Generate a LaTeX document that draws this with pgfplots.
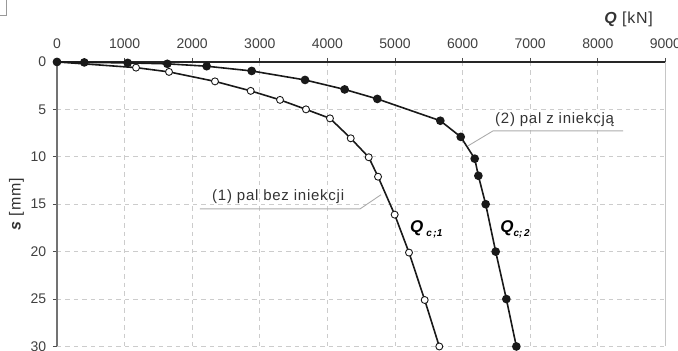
\documentclass[border=0pt]{standalone}
\usepackage{fontspec}
\setmainfont{Liberation Sans}
\newfontfamily\lbl[LetterSpace=5]{Liberation Sans}
\usepackage{pgfplots}
\pgfplotsset{compat=1.18}
\begin{document}
\fontsize{14}{16}\selectfont
\begin{tikzpicture}
\begin{axis}[
 scale only axis, width=609pt, height=284.8pt,
 xmin=0,xmax=9000, ymin=0,ymax=30, y dir=reverse,
 axis x line*=top, axis y line*=left,
 xtick={0,1000,...,9000}, ytick={0,5,...,30},
 scaled x ticks=false, xticklabel style={/pgf/number format/1000 sep={}, yshift=4pt},
 yticklabel style={xshift=-2pt},
 /pgf/number format/assume math mode=true,
 ticklabel style={font=\fontsize{14}{16}\selectfont, text=black!75},
 grid=major, major grid style={gray!40, line width=0.8pt, dash pattern=on 4.5pt off 4pt},
 tick align=outside, tick style={black!70, line width=1pt}, major tick length=4pt,
 x axis line style={black!85, line width=1.6pt, -},
 y axis line style={black!55, line width=2.2pt, -},
 clip=false,
]
\addplot[black!90, line width=1.6pt, mark=*, mark size=3.5pt, mark options={fill=white, line width=0.9pt}] coordinates {
(0,0) (1169,0.6) (1657,1.05) (2337,2.05) (2865,3.05) (3299,4.0) (3683,5.0) (4038,5.95)
(4345,8.05) (4611,10.05) (4749,12.1) (4995,16.1) (5207,20.1) (5439,25.1) (5655,30)};
\addplot[black!90, line width=1.6pt, mark=*, mark size=3.5pt, mark options={fill=black!90}] coordinates {
(0,0) (404,0.05) (1045,0.1) (1632,0.2) (2214,0.45) (2880,0.95) (3669,1.9) (4255,2.9) (4738,3.9)
(5670,6.2) (5972,7.9) (6179,10.2) (6233,12) (6341,15) (6489,20) (6647,25) (6795,30)};
% annotations
\node[anchor=west, inner sep=0pt, text=black!80, font=\lbl\fontsize{15}{17}\selectfont] at (axis cs:2293,14.2) {(1) pal bez iniekcji};
\draw[gray!65, line width=0.9pt] (axis cs:2115,15.5) -- (axis cs:4482,15.5) -- (axis cs:4793,14.0);
\node[anchor=west, inner sep=0pt, text=black!80, font=\lbl\fontsize{15}{17}\selectfont] at (axis cs:6479,6.1) {(2) pal z iniekcją};
\draw[gray!65, line width=0.9pt] (axis cs:8373,7.27) -- (axis cs:6450,7.27) -- (axis cs:6080,8.85);
\node[anchor=west, inner sep=0pt] at (axis cs:5222,17.6) {\fontsize{17}{19}\selectfont\bfseries\itshape Q\,\raisebox{-0.45ex}{\fontsize{10}{10}\selectfont\bfseries\itshape c\,;1}};
\node[anchor=west, inner sep=0pt] at (axis cs:6555,17.6) {\fontsize{17}{19}\selectfont\bfseries\itshape Q\raisebox{-0.45ex}{\fontsize{10}{10}\selectfont\bfseries\itshape c;\,2}};
\node[anchor=east, inner sep=0pt, text=black!80, font=\lbl\fontsize{16}{18}\selectfont] at (axis cs:8817,-4.53) {{\bfseries\itshape Q} [kN]};
\node[rotate=90, inner sep=0pt, text=black!80, font=\lbl\fontsize{16}{18}\selectfont] at (axis cs:-600,15) {{\bfseries\itshape s} [mm]};
\draw[gray!45, line width=0.8pt] (axis cs:9000,0) -- (axis cs:9000,30);
\draw[gray!80, line width=0.8pt] (axis cs:-843,-4.95) -- (axis cs:-754,-4.95) -- (axis cs:-754,-6.6);
\coordinate (bbA) at (axis cs:-843,-6.53);
\coordinate (bbB) at (axis cs:9186,30.45);
\end{axis}
\pgfresetboundingbox
\path (bbA) rectangle (bbB);
\end{tikzpicture}
\end{document}
